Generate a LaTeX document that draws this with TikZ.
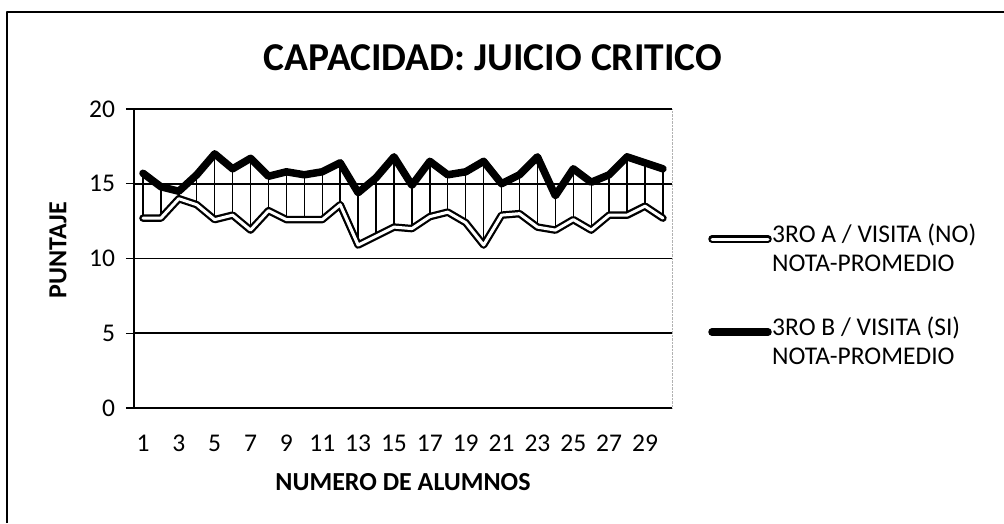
\documentclass[tikz,border=0pt]{standalone}
\usepackage{fontspec}
\setmainfont{Carlito}
\begin{document}
\begin{tikzpicture}[x=1pt, y=1pt, line join=round, font=\fontsize{25.5}{29}\selectfont]
	\tikzset{eje/.style={font=\fontsize{26}{30}\selectfont\bfseries},
		serie/.style={line width=7.5pt, line cap=round},
		hueco/.style={line width=3pt, line cap=round, white}}
	\useasboundingbox (0,0) rectangle (1004,523);
	\draw[line width=2.2pt] (7,0) -- (7,511) -- (1004,511);
	\node (titulo) at (493,465) {\fontsize{39.5}{42}\selectfont\bfseries CAPACIDAD: JUICIO CRITICO};
	\begin{scope}[shift={(134,115)}, x=17.93pt, y=14.95pt]
		\foreach \k in {5,10,15,20} \draw[line width=1.8pt] (0,\k) -- (30,\k);
		\draw[gray!60, densely dotted] (30,0) -- (30,20);
		\draw[line width=2pt] (0,0) -- (30,0);
		\draw[line width=1.3pt] (0,0) -- (0,20);
		\foreach \k in {0,5,...,20} \draw[line width=1.3pt] (-0.45,\k) -- (0,\k) node (y\k) [anchor=east, xshift=-15pt] {\k};
		\foreach \i in {1,3,...,29} \node (x\i) at (\i-0.5,-2.35) {\i};
		\foreach \v [count=\i] in {12.7,12.7,14.0,13.6,12.6,12.9,11.9,13.2,12.6,12.6,12.6,13.6,10.9,11.5,12.1,12.0,12.8,13.1,12.4,10.9,12.9,13.0,12.1,11.9,12.6,11.9,12.9,12.9,13.5,12.7}
			\coordinate (a\i) at (\i-0.5,\v);
		\foreach \v [count=\i] in {15.7,14.8,14.5,15.6,17.0,16.0,16.7,15.5,15.8,15.6,15.8,16.4,14.4,15.4,16.8,14.9,16.5,15.6,15.8,16.5,15.0,15.6,16.8,14.2,16.0,15.1,15.6,16.8,16.4,16.0}
			\coordinate (b\i) at (\i-0.5,\v);
		\foreach \i in {1,...,30} \draw[line width=1.4pt] (a\i) -- (b\i);
		\draw[serie] (a1) \foreach \i in {2,...,30} {-- (a\i)};
		\draw[hueco] (a1) \foreach \i in {2,...,30} {-- (a\i)};
		\draw[serie] (b1) \foreach \i in {2,...,30} {-- (b\i)};
	\end{scope}
	\node[eje, rotate=90] (ejey) at (58,273) {PUNTAJE};
	\node[eje] (ejex) at (403,41) {NUMERO DE ALUMNOS};
	\draw[serie] (712,284) -- (768,284);
	\draw[hueco] (712,284) -- (768,284);
	\node[anchor=north west, align=left, inner sep=0pt] (leyA) at (772,299) {3RO A / VISITA (NO)\\NOTA-PROMEDIO};
	\draw[serie] (712,191) -- (768,191);
	\node[anchor=north west, align=left, inner sep=0pt] (leyB) at (772,206) {3RO B / VISITA (SI)\\NOTA-PROMEDIO};
\end{tikzpicture}
\end{document}
